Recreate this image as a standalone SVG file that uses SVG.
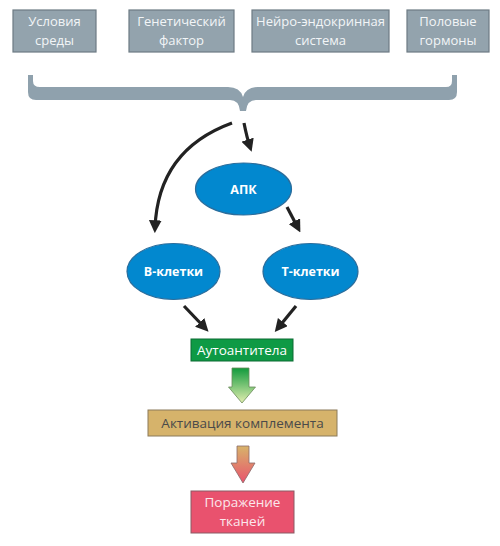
<svg xmlns="http://www.w3.org/2000/svg" width="500" height="546" viewBox="0 0 500 546">
<style>
.top rect{fill:#93a3ad;stroke:#6d7b84;stroke-width:1.2}
.top text{fill:#f2f5f7;font-family:"Open Sans",sans-serif;font-size:13px;text-anchor:middle}
.cell ellipse{fill:#0288cf;stroke:#2b6d9c;stroke-width:1.2}
.cell text{fill:#ffffff;font-family:"Open Sans",sans-serif;font-weight:bold;font-size:12.5px;text-anchor:middle}
.conn path{fill:none;stroke:#222;stroke-width:3.2;marker-end:url(#ah)}
.lbl{font-family:"Open Sans",sans-serif;font-size:13.5px;text-anchor:middle}
</style>
<defs>
<marker id="ah" viewBox="0 0 10 10" refX="6" refY="5" markerWidth="4" markerHeight="4" orient="auto" markerUnits="strokeWidth">
<path d="M0,0 L10,5 L0,10 Z" fill="#222"/>
</marker>
<linearGradient id="g1" x1="0" y1="0" x2="0" y2="1">
<stop offset="0" stop-color="#119a3c"/>
<stop offset="1" stop-color="#e3eeb0"/>
</linearGradient>
<linearGradient id="g2" x1="0" y1="0" x2="0" y2="1">
<stop offset="0" stop-color="#d7b46a"/>
<stop offset="1" stop-color="#e9526d"/>
</linearGradient>
</defs>

<g id="n-usloviya" class="top"><rect x="13" y="10" width="83" height="42"/><text x="54.5" y="26">Условия</text><text x="54.5" y="45">среды</text></g>
<g id="n-genetic" class="top"><rect x="129" y="10" width="105" height="42"/><text x="181.5" y="26">Генетический</text><text x="181.5" y="45">фактор</text></g>
<g id="n-neuro" class="top"><rect x="252" y="10" width="137" height="42"/><text x="320.5" y="26">Нейро-эндокринная</text><text x="320.5" y="45">система</text></g>
<g id="n-hormones" class="top"><rect x="407" y="10" width="82" height="42"/><text x="448" y="26">Половые</text><text x="448" y="45">гормоны</text></g>

<g id="brace"><path fill="#8fa1ad" d="M28,75 H33 V81 Q33,87 40,87 H228 Q240,87 243,97 Q246,87 258,87 H446 Q452,87 452,81 V75 H457 V92 Q457,100 449,100 H256 Q247,100 246,111 H240 Q239,100 230,100 H36 Q28,100 28,92 Z"/></g>

<g id="n-apk" class="cell"><ellipse cx="243.5" cy="189" rx="48" ry="26"/><text x="243.5" y="193.5">АПК</text></g>
<g id="n-b" class="cell"><ellipse cx="173.5" cy="271.5" rx="46.5" ry="28"/><text x="173.5" y="276">В-клетки</text></g>
<g id="n-t" class="cell"><ellipse cx="310.5" cy="271.5" rx="47.5" ry="28"/><text x="310.5" y="276">Т-клетки</text></g>

<g id="connectors" class="conn">
<path d="M232,123 Q158,150 155,228"/>
<path d="M244,123 Q247,138 250,147"/>
<path d="M287,207 L298,228"/>
<path d="M184,306 L205,328"/>
<path d="M296,306 L278,328"/>
</g>

<g id="n-auto"><rect x="191" y="339" width="102" height="22" fill="#0e9a45" stroke="#0b6b32" stroke-width="1"/><text class="lbl" x="242" y="355" fill="#ffffff">Аутоантитела</text></g>

<g id="arrow1"><path d="M232,368 H249 V387 H255.5 L242,403 L228.5,387 H232 Z" fill="url(#g1)" stroke="#6a8a5a" stroke-width="0.8"/></g>

<g id="n-activ"><rect x="148" y="410" width="189" height="26" fill="#d6b36b" stroke="#8b7a5a" stroke-width="1"/><text class="lbl" x="242.5" y="428" fill="#4a4a4a">Активация комплемента</text></g>

<g id="arrow2"><path d="M237,446 H249 V463 H255 L243,483 L231,463 H237 Z" fill="url(#g2)" stroke="#8a6a6a" stroke-width="0.8"/></g>

<g id="n-porazh"><rect x="191" y="491" width="103" height="42" fill="#e9526e" stroke="#8a5a64" stroke-width="1"/><text class="lbl" x="242.5" y="507" fill="#fbe7ec">Поражение</text><text class="lbl" x="242.5" y="526" fill="#fbe7ec">тканей</text></g>
</svg>
